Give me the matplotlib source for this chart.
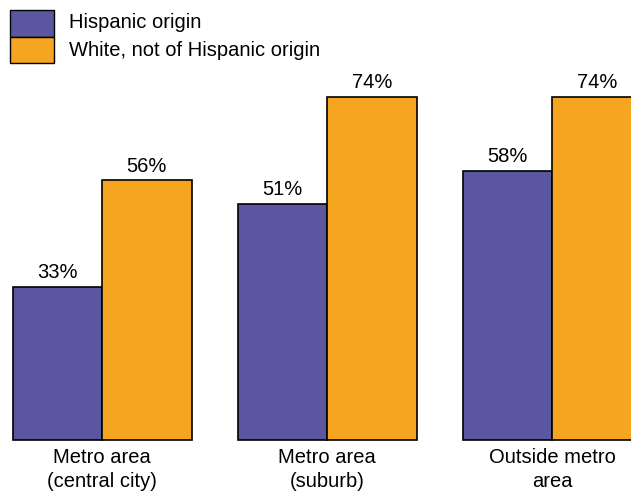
import matplotlib
matplotlib.use("Agg")
import matplotlib.pyplot as plt
from matplotlib.patches import Rectangle
import numpy as np

categories = ["Metro area\n(central city)", "Metro area\n(suburb)", "Outside metro\narea"]
series_names = ["Hispanic origin", "White, not of Hispanic origin"]
hispanic = [33, 51, 58]
white = [56, 74, 74]

PURPLE = "#5a56a0"
ORANGE = "#f5a51f"
FS = 14.5

plt.rcParams['font.family'] = ['Liberation Sans', 'DejaVu Sans']

fig = plt.figure(figsize=(6.31, 4.91), dpi=100)
ax = fig.add_axes([0, 0, 1, 1])
ax.set_axis_off()

px_per_pct = 4.635
group_px = 225.0
ax.set_xlim(-102 / group_px, (631 - 102) / group_px)
ax.set_ylim(-51 / px_per_pct, (491 - 51) / px_per_pct)

x = np.arange(len(categories))
w = 89.5 / group_px
b1 = ax.bar(x - w / 2, hispanic, w, color=PURPLE, edgecolor="black", linewidth=1.2, clip_on=False)
b2 = ax.bar(x + w / 2, white, w, color=ORANGE, edgecolor="black", linewidth=1.2, clip_on=False)

for bars, vals in ((b1, hispanic), (b2, white)):
    for r, v in zip(bars, vals):
        ax.annotate(f"{v}%", (r.get_x() + r.get_width() / 2, v), xytext=(0, 3.5),
                    textcoords="offset points", ha="center", va="bottom", fontsize=FS)

for xi, lab in zip(x, categories):
    ax.annotate(lab, (xi, 0), xytext=(0, -6), textcoords="offset points",
                ha="center", va="top", fontsize=FS, linespacing=1.3)

# legend drawn in figure pixel coords
fig.patches.append(Rectangle((10 / 631, 1 - 37 / 491), 44 / 631, 27 / 491, transform=fig.transFigure,
                             facecolor=PURPLE, edgecolor="black", linewidth=1.0))
fig.patches.append(Rectangle((10 / 631, 1 - 63 / 491), 44 / 631, 26 / 491, transform=fig.transFigure,
                             facecolor=ORANGE, edgecolor="black", linewidth=1.0))
fig.text(69 / 631, 1 - 23 / 491, series_names[0], va="center", ha="left", fontsize=FS)
fig.text(69 / 631, 1 - 50 / 491, series_names[1], va="center", ha="left", fontsize=FS)

fig.savefig("out.png", dpi=100)
